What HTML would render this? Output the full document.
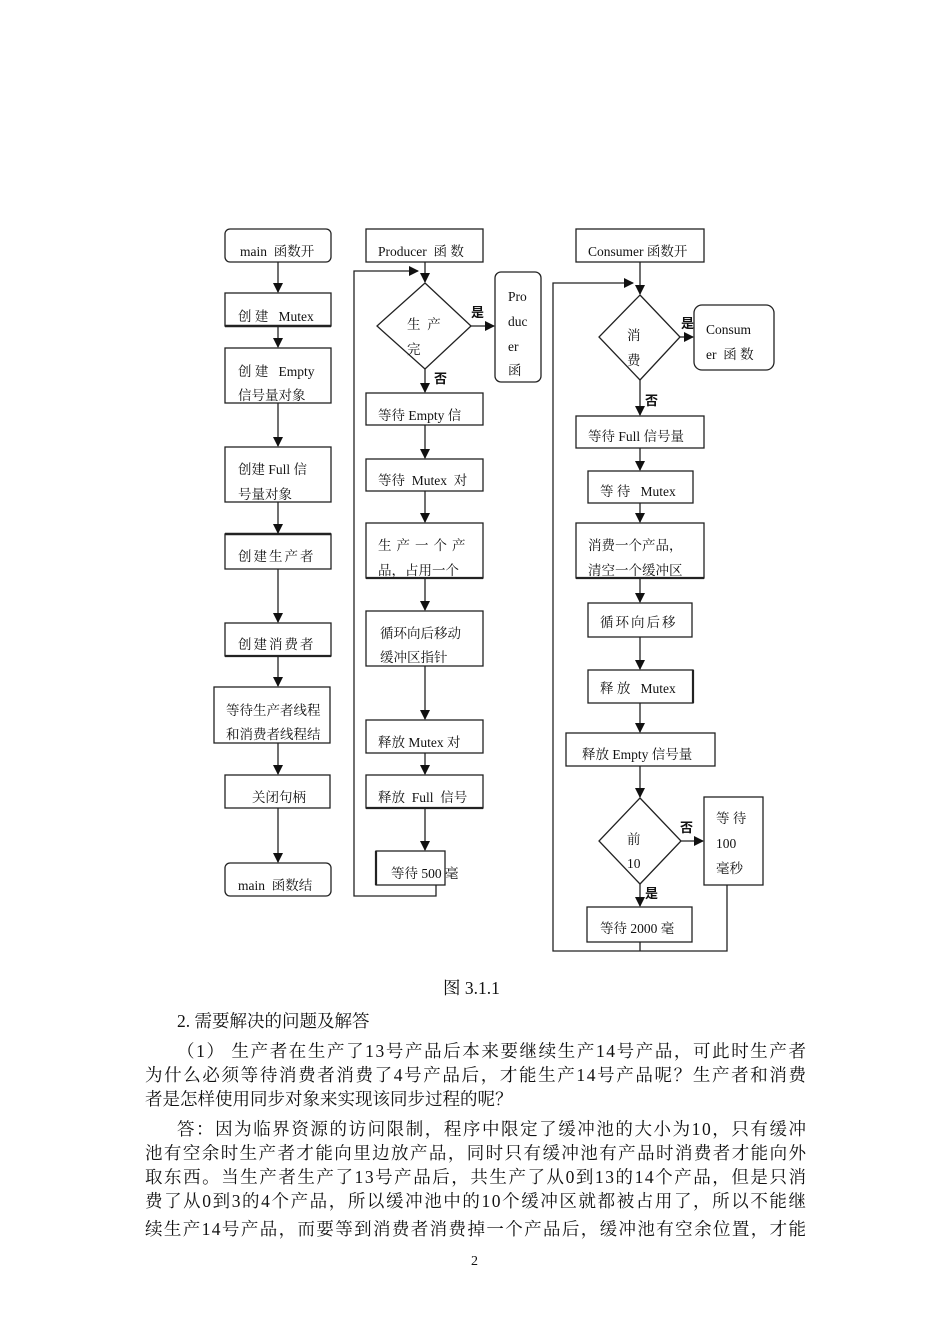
<!DOCTYPE html>
<html><head><meta charset="utf-8"><style>
html,body{margin:0;padding:0;background:#fff;}
svg{display:block;}
text{font-family:"Liberation Serif","Noto Serif CJK SC",serif;fill:#111;white-space:pre;}
.b{font-family:"Liberation Sans","Noto Sans CJK SC",sans-serif;font-weight:bold;}
</style></head><body>
<svg width="950" height="1344" viewBox="0 0 950 1344" xmlns="http://www.w3.org/2000/svg" xml:space="preserve">
<defs><marker id="a" markerWidth="10" markerHeight="10" refX="9" refY="5" orient="auto" markerUnits="userSpaceOnUse"><path d="M0,0 L10,5 L0,10 z" fill="#111"/></marker></defs>
<g fill="none" stroke="#222" stroke-width="1.3">
<rect x="225" y="229" width="106" height="33" rx="5"/>
<rect x="225" y="293" width="106" height="33"/><line x1="225" y1="326" x2="331" y2="326" stroke-width="2.5"/>
<rect x="225" y="348" width="106" height="55"/>
<rect x="225" y="447" width="106" height="55"/>
<rect x="225" y="534" width="106" height="35"/><line x1="225" y1="534" x2="331" y2="534" stroke-width="2.5"/>
<rect x="225" y="623" width="106" height="33"/><line x1="225" y1="656" x2="331" y2="656" stroke-width="2.2"/>
<rect x="214" y="687" width="116" height="56"/>
<rect x="225" y="775" width="105" height="33"/>
<rect x="225" y="863" width="106" height="33" rx="5"/>
<line x1="278" y1="262" x2="278" y2="292" marker-end="url(#a)"/>
<line x1="278" y1="326" x2="278" y2="347" marker-end="url(#a)"/>
<line x1="278" y1="403" x2="278" y2="446" marker-end="url(#a)"/>
<line x1="278" y1="502" x2="278" y2="533" marker-end="url(#a)"/>
<line x1="278" y1="569" x2="278" y2="622" marker-end="url(#a)"/>
<line x1="278" y1="656" x2="278" y2="686" marker-end="url(#a)"/>
<line x1="278" y1="743" x2="278" y2="774" marker-end="url(#a)"/>
<line x1="278" y1="808" x2="278" y2="862" marker-end="url(#a)"/>
<rect x="366" y="229" width="117" height="33"/>
<polygon points="425,283 471,326 425,369 377,326"/>
<rect x="495" y="272" width="46" height="110" rx="6"/>
<rect x="366" y="393" width="117" height="32"/>
<rect x="366" y="459" width="117" height="32"/>
<rect x="366" y="523" width="117" height="55"/><line x1="366" y1="578" x2="483" y2="578" stroke-width="2.2"/>
<rect x="366" y="611" width="117" height="55"/>
<rect x="366" y="720" width="117" height="33"/>
<rect x="366" y="775" width="117" height="33"/><line x1="366" y1="808" x2="483" y2="808" stroke-width="2.2"/>
<rect x="376" y="851" width="69" height="34"/><line x1="376" y1="851" x2="376" y2="885" stroke-width="2.2"/>
<line x1="425" y1="262" x2="425" y2="282" marker-end="url(#a)"/>
<line x1="471" y1="326" x2="494" y2="326" marker-end="url(#a)"/>
<line x1="425" y1="369" x2="425" y2="392" marker-end="url(#a)"/>
<line x1="425" y1="425" x2="425" y2="458" marker-end="url(#a)"/>
<line x1="425" y1="491" x2="425" y2="522" marker-end="url(#a)"/>
<line x1="425" y1="578" x2="425" y2="610" marker-end="url(#a)"/>
<line x1="425" y1="666" x2="425" y2="719" marker-end="url(#a)"/>
<line x1="425" y1="753" x2="425" y2="774" marker-end="url(#a)"/>
<line x1="425" y1="808" x2="425" y2="850" marker-end="url(#a)"/>
<polyline points="436,885 436,896 354,896 354,271 418,271" marker-end="url(#a)"/>
<rect x="576" y="229" width="128" height="33"/>
<polygon points="640,295 680,337 640,380 599,337"/>
<rect x="694" y="305" width="80" height="65" rx="8"/>
<rect x="576" y="416" width="128" height="32"/>
<rect x="588" y="471" width="105" height="32"/>
<rect x="576" y="523" width="128" height="55"/><line x1="576" y1="578" x2="704" y2="578" stroke-width="2.2"/>
<rect x="588" y="603" width="104" height="34"/>
<rect x="588" y="670" width="105" height="33"/><line x1="693" y1="670" x2="693" y2="703" stroke-width="2.2"/>
<rect x="566" y="733" width="149" height="33"/>
<polygon points="640,798 681,841 640,884 599,841"/>
<rect x="704" y="797" width="59" height="88"/>
<rect x="587" y="907" width="105" height="35"/>
<line x1="640" y1="262" x2="640" y2="294" marker-end="url(#a)"/>
<line x1="680" y1="337" x2="693" y2="337" marker-end="url(#a)"/>
<line x1="640" y1="380" x2="640" y2="415" marker-end="url(#a)"/>
<line x1="640" y1="448" x2="640" y2="470" marker-end="url(#a)"/>
<line x1="640" y1="503" x2="640" y2="522" marker-end="url(#a)"/>
<line x1="640" y1="578" x2="640" y2="602" marker-end="url(#a)"/>
<line x1="640" y1="637" x2="640" y2="669" marker-end="url(#a)"/>
<line x1="640" y1="703" x2="640" y2="732" marker-end="url(#a)"/>
<line x1="640" y1="766" x2="640" y2="797" marker-end="url(#a)"/>
<line x1="681" y1="841" x2="703" y2="841" marker-end="url(#a)"/>
<line x1="640" y1="884" x2="640" y2="906" marker-end="url(#a)"/>
<line x1="640" y1="942" x2="640" y2="951"/>
<polyline points="727,885 727,951 553,951 553,283 633,283" marker-end="url(#a)"/>
</g>
<g font-size="13.5">
<text x="240" y="256">main  函数开</text>
<text x="238" y="321">创 建   Mutex</text>
<text x="238" y="376">创 建   Empty</text>
<text x="238" y="400">信号量对象</text>
<text x="238" y="474">创建 Full 信</text>
<text x="238" y="499">号量对象</text>
<text x="238" y="561" letter-spacing="2">创建生产者</text>
<text x="238" y="649" letter-spacing="2">创建消费者</text>
<text x="226" y="715">等待生产者线程</text>
<text x="226" y="739">和消费者线程结</text>
<text x="252" y="802">关闭句柄</text>
<text x="238" y="890">main  函数结</text>
<text x="378" y="256">Producer  函 数</text>
<text x="407" y="329">生  产</text>
<text x="407" y="354">完</text>
<text x="508" y="301">Pro</text>
<text x="508" y="326">duc</text>
<text x="508" y="351">er</text>
<text x="508" y="375">函</text>
<text x="378" y="420">等待 Empty 信</text>
<text x="378" y="485">等待  Mutex  对</text>
<text x="378" y="550" letter-spacing="5">生产一个产</text>
<text x="378" y="575">品，占用一个</text>
<text x="380" y="638">循环向后移动</text>
<text x="380" y="662">缓冲区指针</text>
<text x="378" y="747">释放 Mutex 对</text>
<text x="378" y="802">释放  Full  信号</text>
<text x="391" y="878">等待 500 毫</text>
<text x="588" y="256">Consumer 函数开</text>
<text x="627" y="340">消</text>
<text x="627" y="365">费</text>
<text x="706" y="334">Consum</text>
<text x="706" y="359">er  函 数</text>
<text x="588" y="441">等待 Full 信号量</text>
<text x="600" y="496">等 待   Mutex</text>
<text x="588" y="550">消费一个产品，</text>
<text x="588" y="575">清空一个缓冲区</text>
<text x="600" y="627" letter-spacing="2">循环向后移</text>
<text x="600" y="693">释 放   Mutex</text>
<text x="582" y="759">释放 Empty 信号量</text>
<text x="627" y="844">前</text>
<text x="627" y="868">10</text>
<text x="716" y="823">等 待</text>
<text x="716" y="848">100</text>
<text x="716" y="873">毫秒</text>
<text x="600" y="933">等待 2000 毫</text>
</g>
<g font-size="13">
<text class="b" x="471" y="317">是</text>
<text class="b" x="434" y="383">否</text>
<text class="b" x="681" y="328">是</text>
<text class="b" x="645" y="405">否</text>
<text class="b" x="680" y="832">否</text>
<text class="b" x="645" y="898">是</text>
</g>
<g font-size="17.5">
<text x="443" y="994">图 3.1.1</text>
<text x="177" y="1027">2. 需要解决的问题及解答</text>
<text x="177" y="1057" textLength="629" lengthAdjust="spacing">（1） 生产者在生产了13号产品后本来要继续生产14号产品，可此时生产者</text>
<text x="145" y="1081" textLength="661" lengthAdjust="spacing">为什么必须等待消费者消费了4号产品后，才能生产14号产品呢？生产者和消费</text>
<text x="145" y="1105">者是怎样使用同步对象来实现该同步过程的呢？</text>
<text x="177" y="1135" textLength="629" lengthAdjust="spacing">答：因为临界资源的访问限制，程序中限定了缓冲池的大小为10，只有缓冲</text>
<text x="145" y="1159" textLength="661" lengthAdjust="spacing">池有空余时生产者才能向里边放产品，同时只有缓冲池有产品时消费者才能向外</text>
<text x="145" y="1183" textLength="661" lengthAdjust="spacing">取东西。当生产者生产了13号产品后，共生产了从0到13的14个产品，但是只消</text>
<text x="145" y="1207" textLength="661" lengthAdjust="spacing">费了从0到3的4个产品，所以缓冲池中的10个缓冲区就都被占用了，所以不能继</text>
<text x="145" y="1235" textLength="661" lengthAdjust="spacing">续生产14号产品，而要等到消费者消费掉一个产品后，缓冲池有空余位置，才能</text>
</g>
<text x="471" y="1265" font-size="14">2</text>
</svg>
</body></html>
